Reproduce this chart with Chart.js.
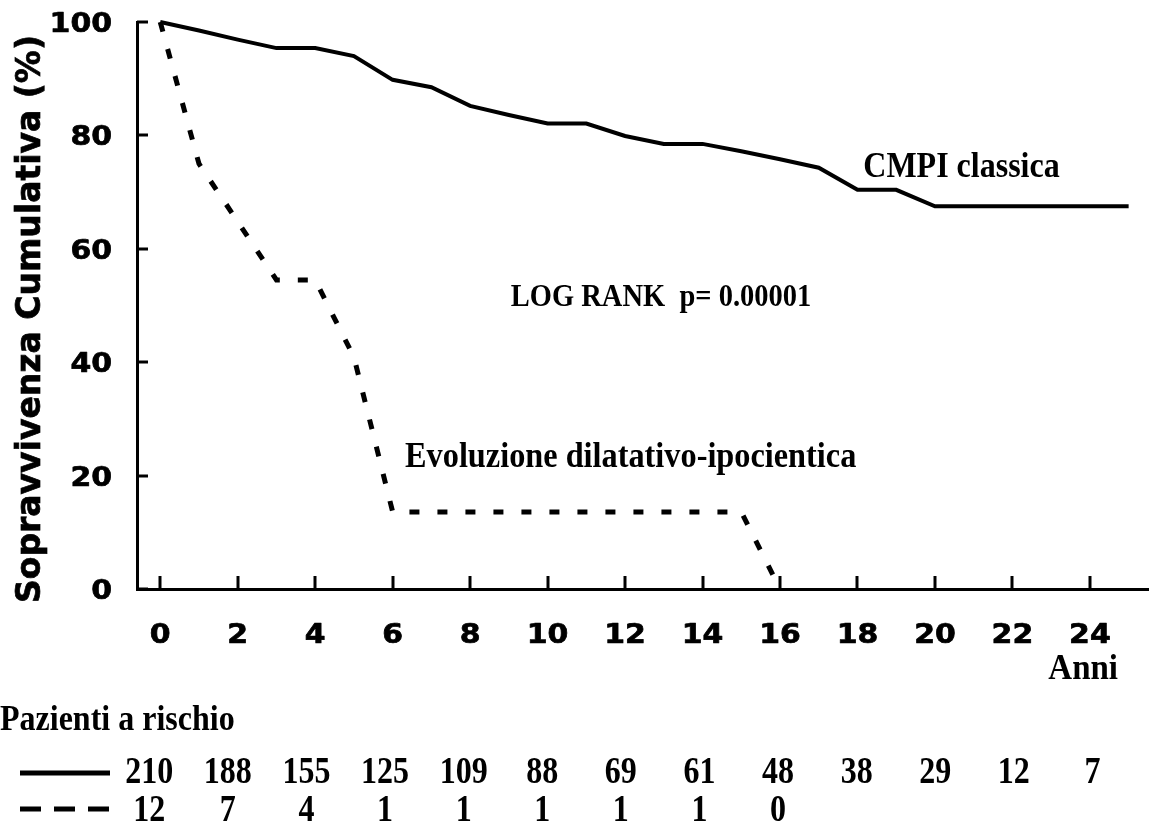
<!DOCTYPE html>
<html>
<head>
<meta charset="utf-8">
<title>Sopravvivenza cumulativa</title>
<script src="https://cdn.jsdelivr.net/npm/chart.js@4.4.1/dist/chart.umd.min.js"></script>
<style>
  html, body { margin: 0; padding: 0; background: #fff; }
  #chart { display: block; }
</style>
</head>
<body>
<canvas id="chart" width="1154" height="826"></canvas>
<script>
// Sopravvivenza cumulativa (%) per anno di follow-up
var anniCmpi = [0, 1, 2, 3, 4, 5, 6, 7, 8, 9, 10, 11, 12, 13, 14, 15, 16, 17, 18, 19, 20, 21, 22, 23, 24, 25];
var survCmpi = [100, 98.5, 96.9, 95.4, 95.4, 94.0, 89.8, 88.5, 85.2, 83.6, 82.1, 82.1, 79.9, 78.5, 78.5, 77.2, 75.8, 74.3, 70.4, 70.4, 67.5, 67.5, 67.5, 67.5, 67.5, 67.5];

var anniEvol = [0, 1, 2, 3, 4, 5, 6, 7, 8, 9, 10, 11, 12, 13, 14, 15, 16];
var survEvol = [100, 75, 64.8, 54.5, 54.5, 40.9, 13.6, 13.6, 13.6, 13.6, 13.6, 13.6, 13.6, 13.6, 13.6, 13.6, 0];

var xTicks = [0, 2, 4, 6, 8, 10, 12, 14, 16, 18, 20, 22, 24];
var yTicks = [0, 20, 40, 60, 80, 100];

// pazienti a rischio ogni 2 anni
var rischioCmpi = [210, 188, 155, 125, 109, 88, 69, 61, 48, 38, 29, 12, 7];
var rischioEvol = [12, 7, 4, 1, 1, 1, 1, 1, 0];

var SANS = "'DejaVu Sans', Verdana, sans-serif";
var SERIF = "'Liberation Serif', 'Times New Roman', serif";

function toPoints(xs, ys) {
  return xs.map(function(x, i) { return { x: x, y: ys[i] }; });
}

// testo con linea di base in y, deformato di sx/sy attorno al punto di ancoraggio
function drawText(ctx, text, x, y, font, align, sx, sy, heavy) {
  ctx.save();
  ctx.font = font;
  ctx.fillStyle = '#000';
  ctx.textAlign = align || 'left';
  ctx.textBaseline = 'alphabetic';
  ctx.translate(x, y);
  ctx.scale(sx || 1, sy || 1);
  ctx.fillText(text, 0, 0);
  if (heavy) {
    ctx.strokeStyle = '#000';
    ctx.lineWidth = heavy;
    ctx.lineJoin = 'round';
    ctx.strokeText(text, 0, 0);
  }
  ctx.restore();
}

function serifText(ctx, text, x, y, size, align, sy) {
  drawText(ctx, text, x, y, 'bold ' + size + 'px ' + SERIF, align, 1, sy || 1.1);
}

// tacche rivolte verso l'interno + etichette degli assi
var axisDecor = {
  id: 'axisDecor',
  beforeDatasetsDraw: function(chart) {
    var ctx = chart.ctx, xs = chart.scales.x, ys = chart.scales.y, a = chart.chartArea;
    ctx.save();
    ctx.strokeStyle = '#000';
    ctx.lineWidth = 3;
    xs.ticks.forEach(function(t) {
      var px = Math.round(xs.getPixelForValue(t.value));
      ctx.beginPath();
      ctx.moveTo(px, a.bottom);
      ctx.lineTo(px, a.bottom - 13);
      ctx.stroke();
    });
    ys.ticks.forEach(function(t) {
      var py = Math.round(ys.getPixelForValue(t.value));
      ctx.beginPath();
      ctx.moveTo(a.left, py);
      ctx.lineTo(a.left + 11, py);
      ctx.stroke();
    });
    ctx.restore();

    var tickFont = 'bold 26px ' + SANS;
    xs.ticks.forEach(function(t) {
      drawText(ctx, String(t.value), xs.getPixelForValue(t.value), a.bottom + 54, tickFont, 'center', 1.15, 1, 0.7);
    });
    ys.ticks.forEach(function(t) {
      drawText(ctx, String(t.value), a.left - 25, ys.getPixelForValue(t.value) + 10, tickFont, 'right', 1.15, 1, 0.7);
    });

    ctx.save();
    ctx.font = 'bold 33px ' + SANS;
    ctx.fillStyle = '#000';
    ctx.strokeStyle = '#000';
    ctx.lineWidth = 0.7;
    ctx.textAlign = 'center';
    ctx.textBaseline = 'middle';
    ctx.translate(31, 319);
    ctx.rotate(-Math.PI / 2);
    ctx.fillText('Sopravvivenza Cumulativa (%)', 0, 0);
    ctx.strokeText('Sopravvivenza Cumulativa (%)', 0, 0);
    ctx.restore();
  }
};

// etichette delle curve e tabella pazienti a rischio
var labels = {
  id: 'labels',
  afterDraw: function(chart) {
    var ctx = chart.ctx, xs = chart.scales.x, ys = chart.scales.y;
    serifText(ctx, 'CMPI classica', xs.getPixelForValue(18.15), ys.getPixelForValue(72.6), 32);
    serifText(ctx, 'LOG RANK  p= 0.00001', xs.getPixelForValue(9.05), ys.getPixelForValue(49.9), 28.5);
    serifText(ctx, 'Evoluzione dilatativo-ipocientica', xs.getPixelForValue(6.32), ys.getPixelForValue(21.5), 32.3);

    serifText(ctx, 'Anni', 1118, 679, 33, 'right');
    serifText(ctx, 'Pazienti a rischio', 0, 730, 32);

    // campioni di linea
    ctx.save();
    ctx.strokeStyle = '#000';
    ctx.lineWidth = 5;
    ctx.beginPath();
    ctx.moveTo(20, 773);
    ctx.lineTo(110, 773);
    ctx.stroke();
    ctx.setLineDash([21, 13]);
    ctx.beginPath();
    ctx.moveTo(20, 809);
    ctx.lineTo(110, 809);
    ctx.stroke();
    ctx.restore();

    // colonne della tabella
    var col0 = xs.getPixelForValue(0) - 11, colStep = 78.6;
    rischioCmpi.forEach(function(n, i) {
      serifText(ctx, String(n), col0 + i * colStep, 783, 32, 'center', 1.16);
    });
    rischioEvol.forEach(function(n, i) {
      serifText(ctx, String(n), col0 + i * colStep, 821, 32, 'center', 1.16);
    });
  }
};

new Chart(document.getElementById('chart'), {
  type: 'line',
  data: {
    datasets: [
      {
        label: 'CMPI classica',
        data: toPoints(anniCmpi, survCmpi),
        borderColor: '#000',
        borderWidth: 4,
        pointRadius: 0,
        tension: 0,
        fill: false,
        clip: false
      },
      {
        label: 'Evoluzione dilatativo-ipocientica',
        data: toPoints(anniEvol, survEvol),
        borderColor: '#000',
        borderWidth: 5,
        borderDash: [10, 18],
        borderCapStyle: 'butt',
        pointRadius: 0,
        tension: 0,
        fill: false,
        clip: false
      }
    ]
  },
  options: {
    responsive: false,
    animation: false,
    layout: { autoPadding: false, padding: { top: 22, right: 6, bottom: 0, left: 0 } },
    plugins: { legend: { display: false }, tooltip: { enabled: false } },
    scales: {
      x: {
        type: 'linear',
        min: -0.6,
        max: 25.5,
        afterBuildTicks: function(s) { s.ticks = xTicks.map(function(v) { return { value: v }; }); },
        afterFit: function(s) { s.height = 237; },
        grid: { drawOnChartArea: false, drawTicks: false, color: 'transparent' },
        border: { display: true, color: '#000', width: 3 },
        ticks: { display: false }
      },
      y: {
        min: 0,
        max: 100,
        afterBuildTicks: function(s) { s.ticks = yTicks.map(function(v) { return { value: v }; }); },
        afterFit: function(s) { s.width = 137; },
        grid: { drawOnChartArea: false, drawTicks: false, color: 'transparent' },
        border: { display: true, color: '#000', width: 3 },
        ticks: { display: false }
      }
    }
  },
  plugins: [axisDecor, labels]
});
</script>
</body>
</html>
